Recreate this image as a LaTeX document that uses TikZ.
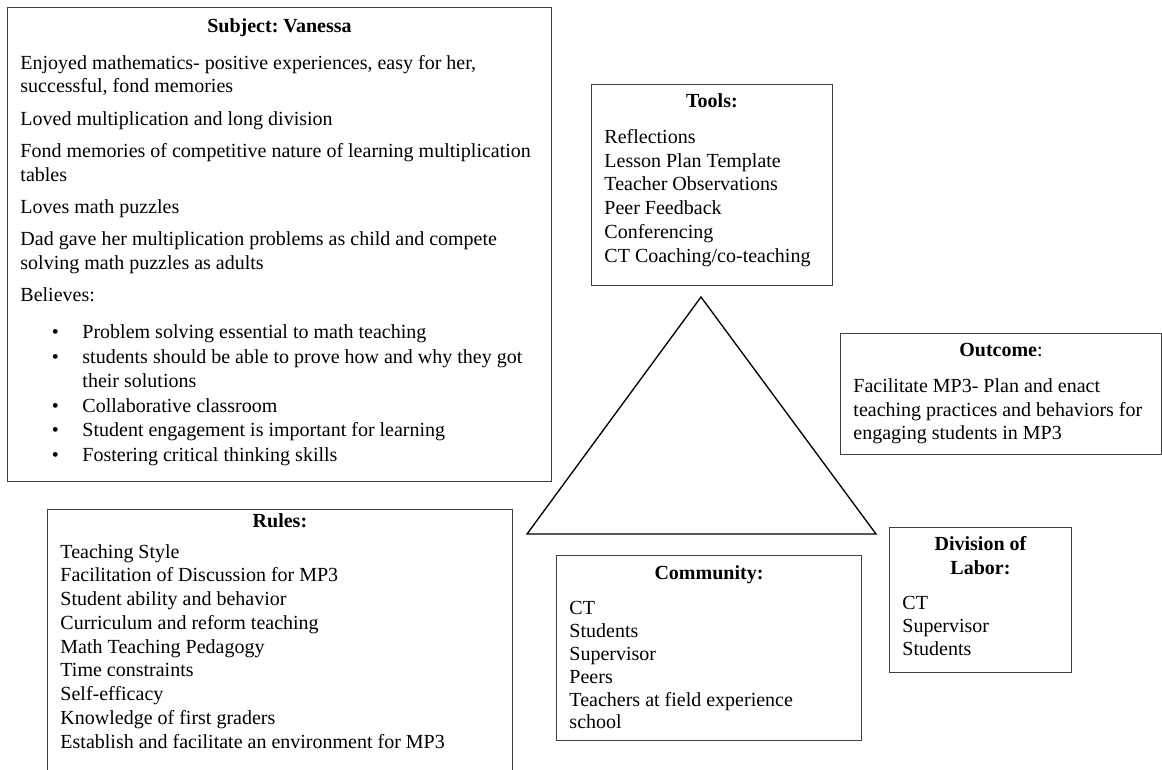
\documentclass[tikz,border=0pt]{standalone}
\usepackage{fontspec}
\setmainfont{Liberation Serif}
\usetikzlibrary{calc}

% text block of a box: width, height, body
\newcommand{\boxbody}[3]{%
  \begin{minipage}[t][#2][t]{#1}%
  \fontsize{15pt}{17.8pt}\selectfont\frenchspacing
  \raggedright\leftskip=9.75pt\parskip=9.5pt\relax
  #3%
  \end{minipage}}
\newcommand{\boxtitle}[1]{{\centering\bfseries\strut #1\par}}
\newcommand{\bitem}{\par\noindent\llap{\textbullet\hspace{17.6pt}}}

\begin{document}
\begin{tikzpicture}[x=0.75pt, y=-0.75pt,
  box/.style={draw=black!75, line width=0.7pt, anchor=north west, inner xsep=0pt, inner ysep=4.5pt},
  tri/.style={draw=black, line width=1pt, line join=miter}]

% page
\useasboundingbox (0,0) rectangle (1162,769);
\clip (0,0) rectangle (1162,769);

% subject
\node[box, inner ysep=6.5pt] (subject) at (7,7) {\boxbody{408pt}{342.5pt}{%
  \boxtitle{Subject: Vanessa}
  Enjoyed mathematics- positive experiences, easy for her,\\ successful, fond memories\par
  \parskip=6.4pt
  Loved multiplication and long division\par
  Fond memories of competitive nature of learning multiplication\\ tables\par
  Loves math puzzles\par
  Dad gave her multiplication problems as child and compete\\ solving math puzzles as adults\par
  Believes:\par
  {\leftskip=56.25pt\parskip=0.8pt\vspace{9.2pt}%
  \bitem Problem solving essential to math teaching
  \bitem students should be able to prove how and why they got\\ their solutions
  \bitem Collaborative classroom
  \bitem Student engagement is important for learning
  \bitem Fostering critical thinking skills\par}}};

% tools
\node[box] (tools) at (591,84) {\boxbody{180.75pt}{141.75pt}{%
  \boxtitle{Tools:}
  Reflections\\ Lesson Plan Template\\ Teacher Observations\\ Peer Feedback\\ Conferencing\\ CT Coaching/co-teaching\par}};

% outcome
\node[box] (outcome) at (840,333) {\boxbody{240.75pt}{81.75pt}{%
  \boxtitle{Outcome\mdseries:}
  Facilitate MP3- Plan and enact\\ teaching practices and behaviors for\\ engaging students in MP3\par}};

% rules (runs off the page)
\node[box, inner ysep=0.75pt] (rules) at (47,509) {\boxbody{348.75pt}{223.5pt}{%
  \parskip=5.5pt
  \boxtitle{Rules:}
  Teaching Style\\ Facilitation of Discussion for MP3\\ Student ability and behavior\\ Curriculum and reform teaching\\ Math Teaching Pedagogy\\ Time constraints\\ Self-efficacy\\ Knowledge of first graders\\ Establish and facilitate an environment for MP3\par}};

% community
\node[box, inner ysep=6pt] (community) at (556,555) {\boxbody{228.75pt}{126.75pt}{%
  \fontsize{15pt}{17.1pt}\selectfont
  \boxtitle{Community:}
  CT\\ Students\\ Supervisor\\ Peers\\ Teachers at field experience\\ school\par}};

% division of labor
\node[box, inner ysep=5.5pt] (labor) at (889,527) {\boxbody{136.5pt}{97.75pt}{%
  \fontsize{15pt}{17.3pt}\selectfont
  \boxtitle{Division of\\ Labor:}
  CT\\ Supervisor\\ Students\par}};

% triangle
\coordinate (apex) at (701,297);
\coordinate (baseL) at (527,534);
\coordinate (baseR) at (876,534);
\draw[tri] (apex) -- (baseL) -- (baseR) -- cycle;
\end{tikzpicture}
\end{document}
